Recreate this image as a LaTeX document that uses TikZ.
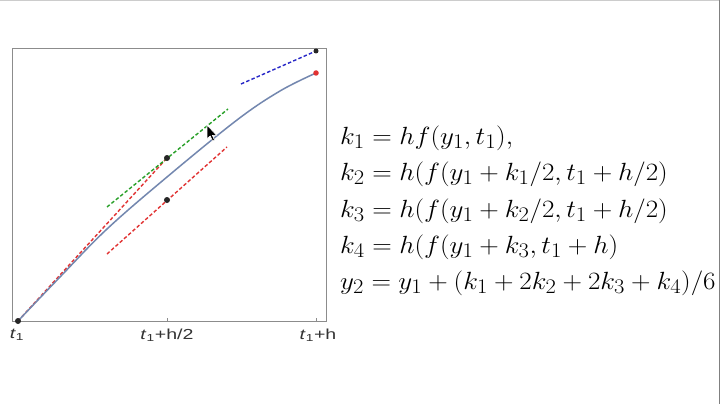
\documentclass[tikz,border=0pt]{standalone}
\usepackage{fontspec}
\setsansfont{Liberation Sans}
\usepackage{graphicx}
\begin{document}
\begin{tikzpicture}[x=1pt,y=-1pt,
  frame/.style={draw=black!45, line width=1pt},
  curve/.style={draw={rgb,255:red,115;green,135;blue,175}, line width=1.5pt},
  dsh/.style={dashed, dash pattern=on 3.5pt off 2.2pt, line width=1.4pt},
  dot/.style={circle, inner sep=0pt, minimum size=6pt},
  tick/.style={font=\sffamily\fontsize{14.5}{14.5}\selectfont, text=black!80, inner sep=0pt, anchor=base},
  eq/.style={anchor=base west, inner sep=0pt, font=\fontsize{28.6}{30}\selectfont}
]
\definecolor{dgreen}{RGB}{40,160,40}
\definecolor{dred}{RGB}{225,50,50}
\definecolor{dblue}{RGB}{40,40,200}
\newcommand{\eqx}[1]{\scalebox{1.087}[1]{$#1$}}
\useasboundingbox (0,0) rectangle (720,404);
\fill[white] (0,0) rectangle (720,404);
\draw[black!20, line width=1pt] (0,0.5) -- (720,0.5);
\draw[black!50, line width=1.2pt] (719.4,0) -- (719.4,404);
% frame
\draw[frame] (12,49) rectangle (326,321);
\draw[frame, line width=0.6pt] (167,321) -- (167,318);
\draw[frame, line width=0.6pt] (316,321) -- (316,318);
% key points
\coordinate (p0) at (18,321);
\coordinate (pm) at (167,158);
\coordinate (pn) at (167,200);
\coordinate (pb) at (316,51);
\coordinate (pr) at (316,73);
% dashed lines
\coordinate (g1) at (107,207); \coordinate (g2) at (228,109);
\coordinate (r1) at (107,254); \coordinate (r2) at (227,147);
\coordinate (b1) at (241,84);
\draw[dsh, dred] (p0) -- (pm);
\draw[dsh, dgreen] (g1) -- (g2);
\draw[dsh, dred] (r1) -- (r2);
\draw[dsh, dblue] (b1) -- (pb);
% curve
\draw[curve] plot[smooth, tension=0.6] coordinates {(18,321) (60,277) (107,229) (167,177) (237,120) (280,91) (316,73)};
% dots
\node[dot, fill=black!85] (d0) at (p0) {};
\node[dot, fill=black!85] (dm) at (pm) {};
\node[dot, fill=black!85] (dn) at (pn) {};
\node[dot, fill=black!85, minimum size=5pt] (db) at (pb) {};
\node[dot, fill=dred, minimum size=5.5pt] (dr) at (pr) {};
% cursor
\filldraw[fill=black, draw=white, line width=0.6pt, shift={(207,125)}]
  (0,0) -- (0,14) -- (3.2,11) -- (5.6,16) -- (7.6,15.2) -- (5.3,10.3) -- (9.6,10.3) -- cycle;
% tick labels
\node[tick] (l1) at (17,338) {\scalebox{1.35}[1]{\textit{t}\textsubscript{1}}};
\node[tick] (l2) at (167,339) {\scalebox{1.35}[1]{\textit{t}\textsubscript{1}+h/2}};
\node[tick] (l3) at (318,339) {\scalebox{1.35}[1]{\textit{t}\textsubscript{1}+h}};
% equations
\node[eq] (e1) at (340,144) {\eqx{k_1 = hf(y_1,t_1),}};
\node[eq] (e2) at (340,180) {\eqx{k_2 = h(f(y_1+k_1/2,t_1+h/2)}};
\node[eq] (e3) at (340,217) {\eqx{k_3 = h(f(y_1+k_2/2,t_1+h/2)}};
\node[eq] (e4) at (340,253) {\eqx{k_4 = h(f(y_1+k_3,t_1+h)}};
\node[eq] (e5) at (340,289) {\eqx{y_2 = y_1+(k_1+2k_2+2k_3+k_4)/6}};
\end{tikzpicture}
\end{document}
